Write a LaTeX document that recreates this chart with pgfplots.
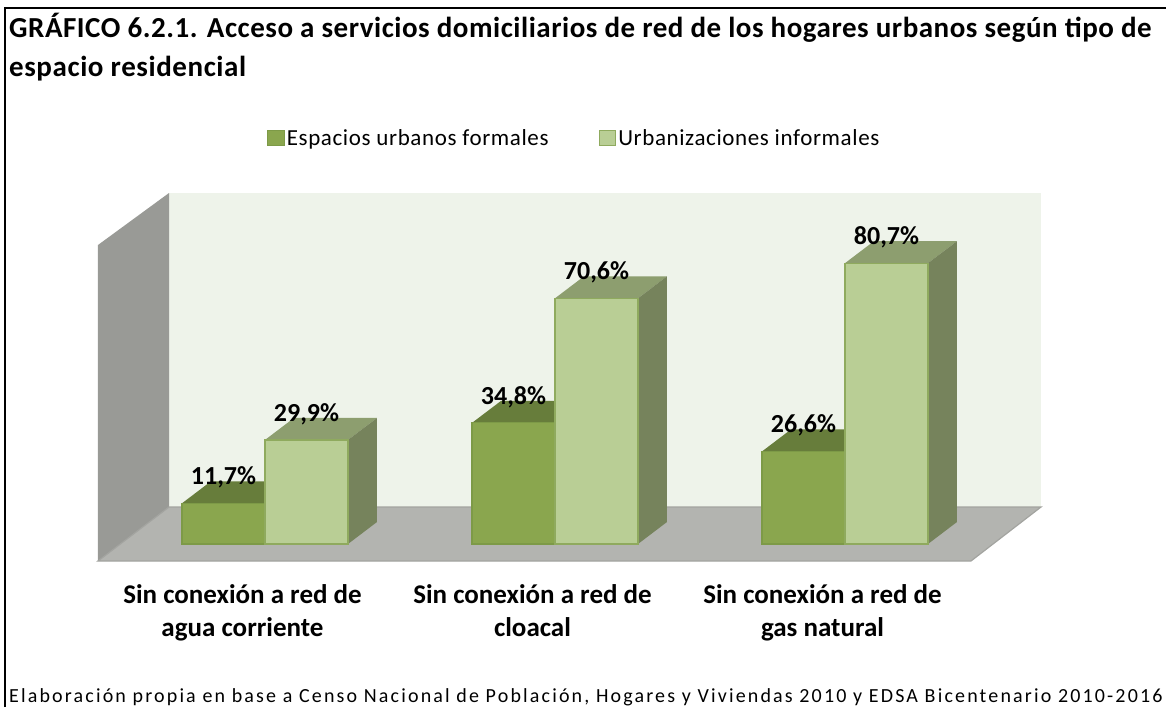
\documentclass[border=0pt]{standalone}
\usepackage{fontspec}
\usepackage{pgfplots}
\pgfplotsset{compat=1.18}
\setmainfont{Carlito}
\newfontfamily\titlefont[LetterSpace=1.8]{Carlito}
\newfontfamily\titlefontb[LetterSpace=2]{Carlito}
\newfontfamily\legfont[LetterSpace=2.7]{Carlito}
\newfontfamily\footfont[LetterSpace=10.8]{Carlito}
\definecolor{darkfront}{HTML}{8AA64E}
\definecolor{darkedge}{HTML}{7D9A47}
\definecolor{darktop}{HTML}{677D3B}
\definecolor{lightfront}{HTML}{B9CE95}
\definecolor{lightedge}{HTML}{8FAA5E}
\definecolor{lighttop}{HTML}{8D9E6F}
\definecolor{lightside}{HTML}{76835C}
\definecolor{backwall}{HTML}{EEF3EA}
\definecolor{leftwall}{HTML}{999A96}
\definecolor{floorc}{HTML}{B3B4B0}
\definecolor{flooredge}{HTML}{A3A4A0}
\begin{document}
\begin{tikzpicture}
\useasboundingbox (0,0) rectangle (1166pt,707pt);
\clip (0,0) rectangle (1166pt,707pt);
\begin{axis}[
  at={(0,0)}, anchor=south west,
  scale only axis, width=1166pt, height=707pt,
  xmin=-0.91379, xmax=3.10690,
  ymin=-46.839, ymax=156.322,
  clip=false,
  axis line style={draw=none},
  tick style={draw=none},
  ymajorticks=false,
  xtick={-0.0776,0.9224,1.9224},
  xticklabels={{Sin conexión a red de\\agua corriente},{Sin conexión a red de\\cloacal},{Sin conexión a red de\\gas natural}},
  xticklabel style={align=center, font=\fontsize{27}{33}\selectfont\bfseries, yshift=126pt},
  legend style={at={(axis cs:1.0665,116.7)}, anchor=center, draw=none, fill=none, legend columns=2,
    font=\fontsize{23}{27}\selectfont\legfont,
    /tikz/every even column/.append style={column sep=48pt}},
  legend image code/.code={\draw[#1] (-2pt,-7.5pt) rectangle (14.5pt,7.5pt);},
]
% walls and floor
\addplot[fill=backwall, draw=none, forget plot] coordinates {(-0.3310,10.63) (2.6759,10.63) (2.6759,100.86) (-0.3310,100.86)} -- cycle;
\addplot[fill=leftwall, draw=none, forget plot] coordinates {(-0.5759,-4.885) (-0.3310,10.63) (-0.3310,100.86) (-0.5759,85.92)} -- cycle;
\addplot[fill=floorc, draw=flooredge, line width=1.2pt, forget plot] coordinates {(-0.5759,-4.885) (2.4345,-4.885) (2.6759,10.63) (-0.3310,10.63)} -- cycle;
% tops of the dark bars
\addplot[fill=darktop, draw=none, forget plot] coordinates {(-0.2862,11.7) (0,11.7) (0.1,18.02) (-0.1862,18.02)} -- cycle;
\addplot[fill=darktop, draw=none, forget plot] coordinates {(0.7138,34.8) (1,34.8) (1.1,41.12) (0.8138,41.12)} -- cycle;
\addplot[fill=darktop, draw=none, forget plot] coordinates {(1.7138,26.6) (2,26.6) (2.1,32.92) (1.8138,32.92)} -- cycle;
% dark fronts
\addplot[ybar, bar width=83pt, bar shift=0pt, fill=darkfront, draw=darkedge, line width=1.2pt,
  nodes near coords={\pgfmathprintnumber[assume math mode=true,use comma,fixed,fixed zerofill,precision=1]{\pgfplotspointmeta}\%},
  nodes near coords style={anchor=center, yshift=26pt, font=\fontsize{26}{30}\selectfont\bfseries, text=black},
  forget plot]
  coordinates {(-0.1431,11.7) (0.8569,34.8) (1.8569,26.6)};
% tops and sides of the light bars
\addplot[fill=lighttop, draw=none, forget plot] coordinates {(0,29.9) (0.2862,29.9) (0.3862,36.22) (0.1,36.22)} -- cycle;
\addplot[fill=lighttop, draw=none, forget plot] coordinates {(1,70.6) (1.2862,70.6) (1.3862,76.92) (1.1,76.92)} -- cycle;
\addplot[fill=lighttop, draw=none, forget plot] coordinates {(2,80.7) (2.2862,80.7) (2.3862,87.02) (2.1,87.02)} -- cycle;
\addplot[fill=lightside, draw=none, forget plot] coordinates {(0.2862,0) (0.3862,6.32) (0.3862,36.22) (0.2862,29.9)} -- cycle;
\addplot[fill=lightside, draw=none, forget plot] coordinates {(1.2862,0) (1.3862,6.32) (1.3862,76.92) (1.2862,70.6)} -- cycle;
\addplot[fill=lightside, draw=none, forget plot] coordinates {(2.2862,0) (2.3862,6.32) (2.3862,87.02) (2.2862,80.7)} -- cycle;
% light fronts
\addplot[ybar, bar width=83pt, bar shift=0pt, fill=lightfront, draw=lightedge, line width=1.2pt,
  nodes near coords={\pgfmathprintnumber[assume math mode=true,use comma,fixed,fixed zerofill,precision=1]{\pgfplotspointmeta}\%},
  nodes near coords style={anchor=center, yshift=26pt, font=\fontsize{26}{30}\selectfont\bfseries, text=black},
  forget plot]
  coordinates {(0.1431,29.9) (1.1431,70.6) (2.1431,80.7)};
\addlegendimage{fill=darkfront, draw=darkedge, line width=1.2pt}
\addlegendentry{Espacios urbanos formales}
\addlegendimage{fill=lightfront, draw=lightedge, line width=1.2pt}
\addlegendentry{Urbanizaciones informales}
\end{axis}
\draw[black, line width=2pt] (5pt,0) -- (5pt,699pt) -- (1166pt,699pt);
\node[anchor=base west, inner sep=0pt, font=\fontsize{29}{31}\selectfont\bfseries\titlefont] at (9pt,669pt) {GRÁFICO 6.2.1. Acceso a servicios domiciliarios de red de los hogares urbanos según tipo de};
\node[anchor=base west, inner sep=0pt, font=\fontsize{29}{31}\selectfont\bfseries\titlefontb] at (9pt,630pt) {espacio residencial};
\node[anchor=base west, inner sep=0pt, font=\fontsize{20}{24}\selectfont\footfont] at (9pt,5pt) {Elaboración propia en base a Censo Nacional de Población, Hogares y Viviendas 2010 y EDSA Bicentenario 2010-2016};
\end{tikzpicture}
\end{document}
